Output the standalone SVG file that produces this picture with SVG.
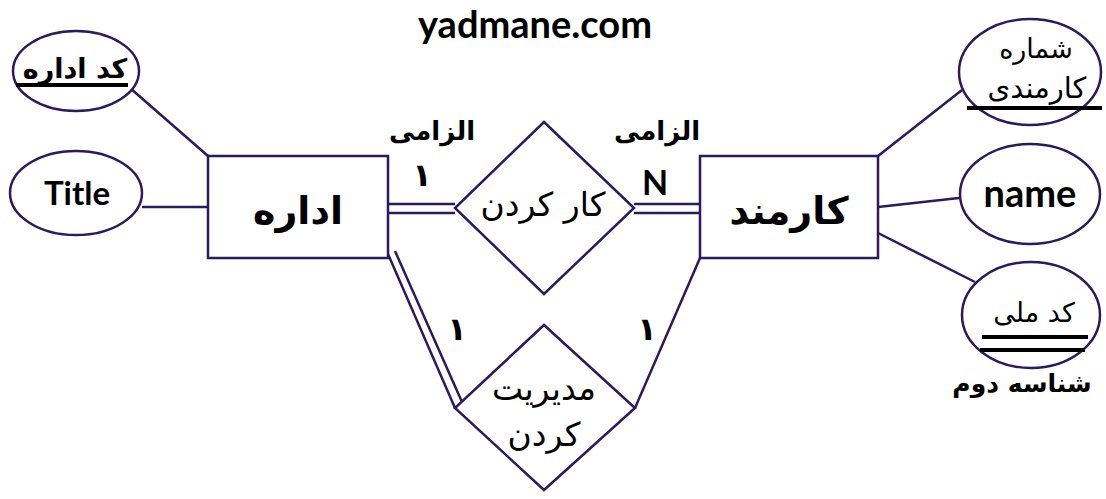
<svg xmlns="http://www.w3.org/2000/svg" width="1106" height="499" viewBox="0 0 1106 499">
<style>
.s{fill:#fff;stroke:#2b1a5c;stroke-width:2.5}
.l{stroke:#2b1a5c;stroke-width:2.5;fill:none}
.u{stroke:#000;stroke-width:4}
.t{font-family:"DejaVu Sans","Noto Sans",sans-serif;fill:#000;text-anchor:middle}
.e{font-family:"Comic Sans MS","Lato","DejaVu Sans",sans-serif;font-weight:bold;fill:#000;text-anchor:middle}
</style>
<rect width="1106" height="499" fill="#fff"/>
<text class="e" x="535" y="38" font-size="38">yadmane.com</text>
<g id="connectors">
<line class="l" x1="130" y1="88" x2="208" y2="156"/>
<line class="l" x1="142" y1="207" x2="208" y2="207"/>
<line class="l" x1="388" y1="204" x2="455" y2="204"/>
<line class="l" x1="388" y1="213" x2="455" y2="213"/>
<line class="l" x1="634" y1="204" x2="700" y2="204"/>
<line class="l" x1="634" y1="213" x2="700" y2="213"/>
<line class="l" x1="388" y1="254" x2="455" y2="408"/>
<line class="l" x1="395" y1="251" x2="462" y2="402"/>
<line class="l" x1="700" y1="258" x2="635" y2="408"/>
<line class="l" x1="878" y1="156" x2="962" y2="90"/>
<line class="l" x1="878" y1="207" x2="959" y2="198"/>
<line class="l" x1="878" y1="233" x2="975" y2="282"/>
</g>
<g id="e-kod-edare">
<ellipse class="s" cx="76" cy="71" rx="63" ry="40"/>
<text class="t" x="75" y="78" font-size="27" font-weight="bold">کد اداره</text>
<line class="u" x1="16" y1="85" x2="128" y2="85"/>
</g>
<g id="e-title">
<ellipse class="s" cx="76" cy="193" rx="66" ry="42"/>
<text class="e" x="77" y="205" font-size="33">Title</text>
</g>
<g id="edare">
<rect class="s" x="208" y="156" width="180" height="102"/>
<text class="t" x="298" y="224" font-size="38" font-weight="bold">اداره</text>
</g>
<g id="karmand">
<rect class="s" x="700" y="156" width="178" height="102"/>
<text class="t" x="789" y="224" font-size="38" font-weight="bold">کارمند</text>
</g>
<g id="kar-kardan">
<polygon class="s" points="544,122 634,208 544,294 455,208"/>
<text class="t" x="543" y="216" font-size="33">کار کردن</text>
</g>
<g id="modiriat">
<polygon class="s" points="544,325 635,408 544,490 455,408"/>
<text class="t" x="544" y="400" font-size="33">مدیریت</text>
<text class="t" x="544" y="446" font-size="33">کردن</text>
</g>
<g id="e-shomare">
<ellipse class="s" cx="1030" cy="72" rx="71" ry="53"/>
<text class="t" x="1036" y="58" font-size="27">شماره</text>
<text class="t" x="1037" y="98" font-size="29">کارمندی</text>
<line class="u" x1="967" y1="108" x2="1102" y2="108"/>
</g>
<g id="e-name">
<ellipse class="s" cx="1030" cy="194" rx="70" ry="50"/>
<text class="e" x="1030" y="207" font-size="38">name</text>
</g>
<g id="e-kod-melli">
<ellipse class="s" cx="1031" cy="315" rx="69" ry="53"/>
<text class="t" x="1034" y="322" font-size="27">کد ملی</text>
<line class="u" x1="982" y1="337" x2="1088" y2="337"/>
<line class="u" x1="980" y1="350" x2="1085" y2="350"/>
</g>
<g id="labels">
<text class="t" x="1022" y="392" font-size="25" font-weight="bold">شناسه دوم</text>
<text class="t" x="432" y="140" font-size="26" font-weight="bold">الزامی</text>
<text class="t" x="422" y="186" font-size="32" font-weight="bold">۱</text>
<text class="t" x="657" y="140" font-size="26" font-weight="bold">الزامی</text>
<text class="e" x="655" y="195" font-size="34" font-weight="normal">N</text>
<text class="t" x="457" y="340" font-size="32" font-weight="bold">۱</text>
<text class="t" x="647" y="340" font-size="32" font-weight="bold">۱</text>
</g>
</svg>
